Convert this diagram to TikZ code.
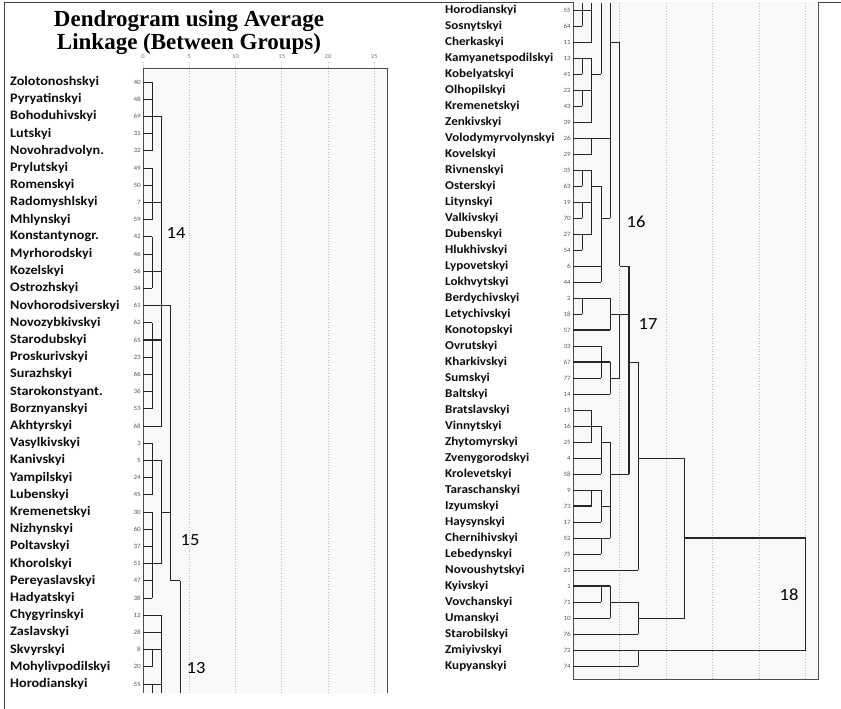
\documentclass[tikz,border=0pt]{standalone}
\usepackage{fontspec}
\newfontfamily\labfont{Carlito}[FakeStretch=1.09]
\newfontfamily\titlefont{Liberation Serif}
\begin{document}
\begin{tikzpicture}[x=1pt,y=-1pt,
    link/.style={draw=black!85,line width=0.8pt},
    heavy link/.style={link,line width=1.4pt},
    grid guide/.style={gray!55,dotted,line width=0.7pt},
    plot frame/.style={draw=black!70,line width=0.9pt},
    left name/.style={anchor=west,inner sep=0pt,text=black!95,font=\labfont\bfseries\fontsize{13}{13}\selectfont},
    right name/.style={anchor=west,inner sep=0pt,text=black!95,font=\labfont\bfseries\fontsize{12}{12}\selectfont},
    case num/.style={anchor=east,inner sep=0pt,text=black!65,font=\labfont\fontsize{6.5}{6.5}\selectfont},
    tick num/.style={anchor=base,inner sep=0pt,text=black!55,font=\labfont\fontsize{6}{6}\selectfont},
    cluster tag/.style={inner sep=0pt,text=black,font=\labfont\fontsize{17}{17}\selectfont},
    title line/.style={anchor=base,inner sep=0pt,font=\titlefont\bfseries\fontsize{23}{23}\selectfont}]

    \useasboundingbox (0,0) rectangle (841,709);
    \fill[white] (0,0) rectangle (841,709);
    \draw[black!75,line width=1pt] (841,2.5) -- (4,2.5) -- (4,709);

    \node[title line] (title1) at (189,27) {Dendrogram using Average};
    \node[title line] (title2) at (189,50) {Linkage (Between Groups)};

    % left page
    \fill[gray!5] (143,68) rectangle (387,693);
    \foreach \k in {1,...,5}
        \draw[grid guide] ({143+46.25*\k},68) -- ({143+46.25*\k},693);
    \foreach \t [count=\k from 0] in {0,5,10,15,20,25} {
        \draw[grid guide] ({143+46.25*\k},62) -- ({143+46.25*\k},68);
        \node[tick num] (tk\k) at ({143+46.25*\k},59) {\t};
    }
    \draw[plot frame] (143,693) -- (143,68) -- (387,68) -- (387,693);

    \foreach \nm/\num [count=\i from 0] in {Zolotonoshskyi/40,Pyryatinskyi/48,Bohoduhivskyi/69,
        Lutskyi/31,Novohradvolyn./32,Prylutskyi/49,Romenskyi/50,Radomyshlskyi/7,Mhlynskyi/59,
        Konstantynogr./42,Myrhorodskyi/46,Kozelskyi/56,Ostrozhskyi/34,Novhorodsiverskyi/61,
        Novozybkivskyi/62,Starodubskyi/65,Proskurivskyi/23,Surazhskyi/66,Starokonstyant./36,
        Borznyanskyi/53,Akhtyrskyi/68,Vasylkivskyi/3,Kanivskyi/5,Yampilskyi/24,Lubenskyi/45,
        Kremenetskyi/30,Nizhynskyi/60,Poltavskyi/37,Khorolskyi/51,Pereyaslavskyi/47,
        Hadyatskyi/38,Chygyrinskyi/12,Zaslavskyi/28,Skvyrskyi/8,Mohylivpodilskyi/20,Horodianskyi/55} {
        \node[left name] (ln\i) at (10,{82+17.2*\i}) {\nm};
        \node[case num] (lc\i) at (141,{82+17.2*\i}) {\num};
    }

    \begin{scope}[xshift=143pt,yshift=-82pt,x=9.25pt,y=-17.2pt]
        \foreach \i/\u in {0/1,1/1,2/2,3/1,4/1,5/1,6/1,7/2,8/1,9/1,10/1,11/2,12/1,13/3,14/1,15/2,
            16/1,17/1,18/1,19/1,20/2,21/1,22/2,23/1,24/1,25/1,26/1,27/1,28/2,29/1,30/1,31/2,32/2,
            33/2,34/1,35/2}
            \draw[link] (0,\i) -- (\u,\i);
        \foreach \u/\a/\b in {1/0/4,1/5/8,1/9/12,1/14/19,2/2/20,3/13/29,1/21/24,1/25/30,2/22/28,
            4/29/35.52,2/31/35.52,1/33/34,1/35/35.52}
            \draw[link] (\u,\a) -- (\u,\b);
        \foreach \i/\a/\b in {25/2/3,29/3/4}
            \draw[link] (\a,\i) -- (\b,\i);
        \draw[heavy link] (0,15) -- (2,15);
    \end{scope}

    \node[cluster tag] (c14) at (176,233) {14};
    \node[cluster tag] (c15) at (190,540) {15};
    \node[cluster tag] (c13) at (196,668) {13};

    % right page
    \fill[gray!5] (573,2.5) rectangle (818,679);
    \foreach \k in {1,...,5}
        \draw[grid guide] ({573+46.5*\k},3) -- ({573+46.5*\k},679);
    \draw[plot frame] (573,2.5) -- (573,679) -- (818,679) -- (818,2.5);

    \foreach \nm/\num [count=\i from 0] in {Horodianskyi/55,Sosnytskyi/64,Cherkaskyi/11,
        Kamyanetspodilskyi/13,Kobelyatskyi/41,Olhopilskyi/22,Kremenetskyi/43,Zenkivskyi/39,
        Volodymyrvolynskyi/26,Kovelskyi/29,Rivnenskyi/35,Osterskyi/63,Litynskyi/19,Valkivskyi/70,
        Dubenskyi/27,Hlukhivskyi/54,Lypovetskyi/6,Lokhvytskyi/44,Berdychivskyi/2,Letychivskyi/18,
        Konotopskyi/57,Ovrutskyi/33,Kharkivskyi/67,Sumskyi/77,Baltskyi/14,Bratslavskyi/15,
        Vinnytskyi/16,Zhytomyrskyi/25,Zvenygorodskyi/4,Krolevetskyi/58,Taraschanskyi/9,
        Izyumskyi/73,Haysynskyi/17,Chernihivskyi/52,Lebedynskyi/75,Novoushytskyi/21,Kyivskyi/1,
        Vovchanskyi/71,Umanskyi/10,Starobilskyi/76,Zmiyivskyi/72,Kupyanskyi/74} {
        \node[right name] (rn\i) at (445,{10+16*\i}) {\nm};
        \node[case num] (rc\i) at (571,{10+16*\i}) {\num};
    }

    \begin{scope}[xshift=573pt,yshift=-10pt,x=9.3pt,y=-16pt]
        \foreach \i/\u in {0/2,1/1,2/2,3/2,4/1,5/2,6/1,7/2,8/2,9/2,10/2,11/1,12/2,13/1,14/2,15/1,
            16/3,17/3,18/4,19/1,20/4,21/3,22/4,23/3,24/4,25/2,26/3,27/2,28/3,29/3,30/3,31/2,32/3,
            33/4,34/3,35/7,36/4,37/3,38/4,39/7,40/25,41/7}
            \draw[link] (0,\i) -- (\u,\i);
        \foreach \u/\a/\b in {1/-0.44/1,2/-0.44/2,3/-0.44/4,4/-0.44/13,1/3/4,1/5/6,2/3/7,2/8/9,
            1/10/11,1/12/13,1/14/15,2/10/14,3/11/17,5/2/16,1/18/19,4/18/20,3/21/23,4/22/24,5/19/23,
            2/25/27,3/26/29,4/27/33,2/30/31,3/30/32,3/33/34,7/22/35,12/28/38,25/33/40,
            3/36/37,4/36/38,7/37/39,7/40/41}
            \draw[link] (\u,\a) -- (\u,\b);
        \foreach \i/\a/\b in {4/2/3,8/2/4,11/2/3,13/3/4,2/4/5,16/5/6,19/4/5,19/5/6,22/6/7,23/4/5,
            27/3/4,29/4/6,31/3/4,28/7/12,33/12/25,37/4/7,38/7/12}
            \draw[link] (\a,\i) -- (\b,\i);
        \draw[heavy link] (6,16) -- (6,29);
        \draw[heavy link] (2,30) -- (2,31) (0,31) -- (2,31);
        \foreach \i/\u in {20/4,22/4,36/4}
            \draw[heavy link] (0,\i) -- (\u,\i);
        \draw[heavy link] (12,33) -- (25,33) -- (25,40);
    \end{scope}

    \node[cluster tag] (c16) at (636,222) {16};
    \node[cluster tag] (c17) at (648,324) {17};
    \node[cluster tag] (c18) at (789,595) {18};
\end{tikzpicture}
\end{document}
